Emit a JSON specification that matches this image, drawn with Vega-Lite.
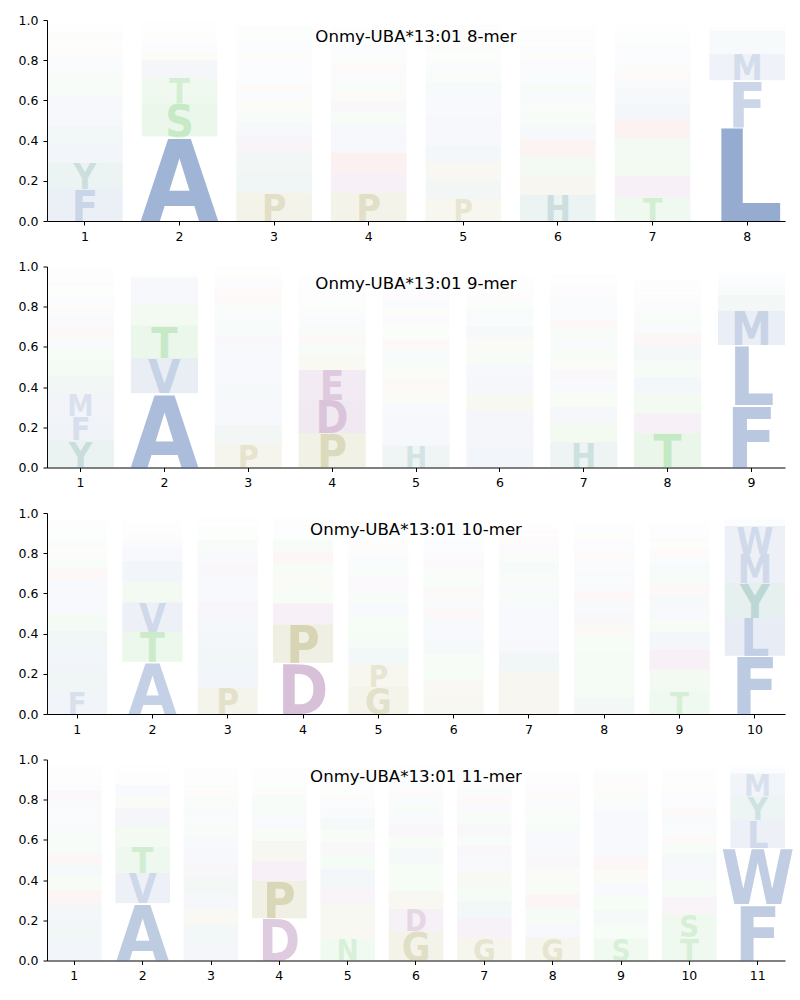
{
"$schema":"https://vega.github.io/schema/vega-lite/v6.json",
"background":"white",
"padding":{"left":16,"top":14,"right":10,"bottom":5},
"config":{"view":{"stroke":null},"font":"DejaVu Sans",
"axis":{"domainColor":"black","tickColor":"black","labelColor":"black","labelFont":"DejaVu Sans","labelFontSize":12.5,"tickSize":4,"labelPadding":5,"grid":false,"domainWidth":1,"tickWidth":1,"title":null},
"title":{"font":"DejaVu Sans","fontSize":16.6,"fontWeight":"normal","color":"black","anchor":"middle","offset":-32,"baseline":"alphabetic"}},
"spacing":45.5,
"bounds":"flush",
"datasets":{
"m8":[
{"pos":1,"aa":"F","h":0.16},{"pos":1,"aa":"Y","h":0.13},{"pos":1,"aa":"I","h":0.10},{"pos":1,"aa":"H","h":0.085},{"pos":1,"aa":"M","h":0.075},{"pos":1,"aa":"V","h":0.07},{"pos":1,"aa":"S","h":0.055},{"pos":1,"aa":"T","h":0.05},{"pos":1,"aa":"A","h":0.05},{"pos":1,"aa":"L","h":0.045},{"pos":1,"aa":"R","h":0.03},{"pos":1,"aa":"K","h":0.025},{"pos":1,"aa":"Q","h":0.02},{"pos":1,"aa":"N","h":0.02},{"pos":1,"aa":"E","h":0.02},{"pos":1,"aa":"D","h":0.015},{"pos":1,"aa":"G","h":0.015},{"pos":1,"aa":"P","h":0.01},{"pos":1,"aa":"W","h":0.01},{"pos":1,"aa":"C","h":0.005},
{"pos":2,"aa":"A","h":0.42},{"pos":2,"aa":"S","h":0.165},{"pos":2,"aa":"T","h":0.125},{"pos":2,"aa":"V","h":0.09},{"pos":2,"aa":"P","h":0.045},{"pos":2,"aa":"I","h":0.03},{"pos":2,"aa":"L","h":0.02},{"pos":2,"aa":"M","h":0.015},{"pos":2,"aa":"G","h":0.015},{"pos":2,"aa":"E","h":0.01},{"pos":2,"aa":"Q","h":0.01},{"pos":2,"aa":"N","h":0.01},{"pos":2,"aa":"F","h":0.01},{"pos":2,"aa":"Y","h":0.005},{"pos":2,"aa":"W","h":0.005},{"pos":2,"aa":"H","h":0.005},{"pos":2,"aa":"K","h":0.005},{"pos":2,"aa":"R","h":0.005},{"pos":2,"aa":"D","h":0.005},
{"pos":3,"aa":"P","h":0.14},{"pos":3,"aa":"Y","h":0.105},{"pos":3,"aa":"H","h":0.09},{"pos":3,"aa":"D","h":0.085},{"pos":3,"aa":"F","h":0.075},{"pos":3,"aa":"N","h":0.055},{"pos":3,"aa":"G","h":0.05},{"pos":3,"aa":"A","h":0.04},{"pos":3,"aa":"K","h":0.035},{"pos":3,"aa":"M","h":0.035},{"pos":3,"aa":"V","h":0.035},{"pos":3,"aa":"I","h":0.03},{"pos":3,"aa":"E","h":0.03},{"pos":3,"aa":"R","h":0.03},{"pos":3,"aa":"W","h":0.03},{"pos":3,"aa":"L","h":0.03},{"pos":3,"aa":"S","h":0.025},{"pos":3,"aa":"T","h":0.02},{"pos":3,"aa":"Q","h":0.02},{"pos":3,"aa":"C","h":0.01},
{"pos":4,"aa":"P","h":0.14},{"pos":4,"aa":"E","h":0.10},{"pos":4,"aa":"K","h":0.10},{"pos":4,"aa":"A","h":0.07},{"pos":4,"aa":"V","h":0.07},{"pos":4,"aa":"T","h":0.06},{"pos":4,"aa":"D","h":0.055},{"pos":4,"aa":"G","h":0.055},{"pos":4,"aa":"N","h":0.045},{"pos":4,"aa":"I","h":0.04},{"pos":4,"aa":"R","h":0.04},{"pos":4,"aa":"S","h":0.035},{"pos":4,"aa":"L","h":0.035},{"pos":4,"aa":"F","h":0.03},{"pos":4,"aa":"M","h":0.025},{"pos":4,"aa":"Q","h":0.02},{"pos":4,"aa":"Y","h":0.02},{"pos":4,"aa":"H","h":0.015},{"pos":4,"aa":"W","h":0.01},{"pos":4,"aa":"C","h":0.005},
{"pos":5,"aa":"P","h":0.11},{"pos":5,"aa":"H","h":0.09},{"pos":5,"aa":"G","h":0.09},{"pos":5,"aa":"I","h":0.085},{"pos":5,"aa":"V","h":0.075},{"pos":5,"aa":"F","h":0.07},{"pos":5,"aa":"A","h":0.06},{"pos":5,"aa":"M","h":0.06},{"pos":5,"aa":"Y","h":0.05},{"pos":5,"aa":"T","h":0.045},{"pos":5,"aa":"L","h":0.04},{"pos":5,"aa":"S","h":0.035},{"pos":5,"aa":"N","h":0.03},{"pos":5,"aa":"E","h":0.025},{"pos":5,"aa":"K","h":0.025},{"pos":5,"aa":"Q","h":0.025},{"pos":5,"aa":"D","h":0.02},{"pos":5,"aa":"R","h":0.02},{"pos":5,"aa":"W","h":0.01},{"pos":5,"aa":"C","h":0.01},
{"pos":6,"aa":"H","h":0.13},{"pos":6,"aa":"P","h":0.10},{"pos":6,"aa":"T","h":0.09},{"pos":6,"aa":"R","h":0.085},{"pos":6,"aa":"A","h":0.07},{"pos":6,"aa":"S","h":0.055},{"pos":6,"aa":"Q","h":0.05},{"pos":6,"aa":"I","h":0.05},{"pos":6,"aa":"N","h":0.05},{"pos":6,"aa":"V","h":0.045},{"pos":6,"aa":"M","h":0.04},{"pos":6,"aa":"E","h":0.04},{"pos":6,"aa":"K","h":0.03},{"pos":6,"aa":"L","h":0.03},{"pos":6,"aa":"G","h":0.025},{"pos":6,"aa":"D","h":0.02},{"pos":6,"aa":"Y","h":0.02},{"pos":6,"aa":"F","h":0.02},{"pos":6,"aa":"W","h":0.01},{"pos":6,"aa":"C","h":0.01},
{"pos":7,"aa":"T","h":0.12},{"pos":7,"aa":"E","h":0.105},{"pos":7,"aa":"S","h":0.10},{"pos":7,"aa":"Q","h":0.09},{"pos":7,"aa":"K","h":0.09},{"pos":7,"aa":"A","h":0.085},{"pos":7,"aa":"H","h":0.065},{"pos":7,"aa":"V","h":0.05},{"pos":7,"aa":"R","h":0.04},{"pos":7,"aa":"N","h":0.04},{"pos":7,"aa":"I","h":0.035},{"pos":7,"aa":"L","h":0.03},{"pos":7,"aa":"D","h":0.025},{"pos":7,"aa":"G","h":0.02},{"pos":7,"aa":"M","h":0.02},{"pos":7,"aa":"Y","h":0.02},{"pos":7,"aa":"P","h":0.015},{"pos":7,"aa":"F","h":0.01},{"pos":7,"aa":"W","h":0.005},{"pos":7,"aa":"C","h":0.005},
{"pos":8,"aa":"L","h":0.47},{"pos":8,"aa":"F","h":0.23},{"pos":8,"aa":"M","h":0.13},{"pos":8,"aa":"I","h":0.065},{"pos":8,"aa":"Y","h":0.05},{"pos":8,"aa":"V","h":0.015},{"pos":8,"aa":"W","h":0.01},{"pos":8,"aa":"A","h":0.01},{"pos":8,"aa":"C","h":0.005},{"pos":8,"aa":"T","h":0.005}
],
"m9":[
{"pos":1,"aa":"Y","h":0.135},{"pos":1,"aa":"F","h":0.12},{"pos":1,"aa":"M","h":0.11},{"pos":1,"aa":"H","h":0.09},{"pos":1,"aa":"S","h":0.085},{"pos":1,"aa":"T","h":0.055},{"pos":1,"aa":"I","h":0.05},{"pos":1,"aa":"K","h":0.05},{"pos":1,"aa":"V","h":0.05},{"pos":1,"aa":"L","h":0.045},{"pos":1,"aa":"R","h":0.03},{"pos":1,"aa":"A","h":0.03},{"pos":1,"aa":"N","h":0.025},{"pos":1,"aa":"Q","h":0.025},{"pos":1,"aa":"E","h":0.02},{"pos":1,"aa":"G","h":0.02},{"pos":1,"aa":"D","h":0.015},{"pos":1,"aa":"W","h":0.015},{"pos":1,"aa":"P","h":0.01},{"pos":1,"aa":"C","h":0.01},
{"pos":2,"aa":"A","h":0.37},{"pos":2,"aa":"V","h":0.175},{"pos":2,"aa":"T","h":0.16},{"pos":2,"aa":"S","h":0.105},{"pos":2,"aa":"I","h":0.068},{"pos":2,"aa":"M","h":0.066},{"pos":2,"aa":"L","h":0.015},{"pos":2,"aa":"G","h":0.01},{"pos":2,"aa":"Q","h":0.01},{"pos":2,"aa":"E","h":0.005},{"pos":2,"aa":"N","h":0.005},{"pos":2,"aa":"F","h":0.005},
{"pos":3,"aa":"P","h":0.12},{"pos":3,"aa":"Y","h":0.09},{"pos":3,"aa":"F","h":0.075},{"pos":3,"aa":"M","h":0.075},{"pos":3,"aa":"H","h":0.065},{"pos":3,"aa":"V","h":0.065},{"pos":3,"aa":"W","h":0.06},{"pos":3,"aa":"A","h":0.055},{"pos":3,"aa":"D","h":0.055},{"pos":3,"aa":"S","h":0.055},{"pos":3,"aa":"I","h":0.05},{"pos":3,"aa":"N","h":0.045},{"pos":3,"aa":"K","h":0.04},{"pos":3,"aa":"R","h":0.04},{"pos":3,"aa":"L","h":0.03},{"pos":3,"aa":"E","h":0.02},{"pos":3,"aa":"G","h":0.02},{"pos":3,"aa":"T","h":0.015},{"pos":3,"aa":"Q","h":0.01},{"pos":3,"aa":"C","h":0.01},
{"pos":4,"aa":"P","h":0.17},{"pos":4,"aa":"D","h":0.165},{"pos":4,"aa":"E","h":0.15},{"pos":4,"aa":"G","h":0.075},{"pos":4,"aa":"S","h":0.05},{"pos":4,"aa":"K","h":0.05},{"pos":4,"aa":"N","h":0.05},{"pos":4,"aa":"A","h":0.045},{"pos":4,"aa":"Q","h":0.04},{"pos":4,"aa":"T","h":0.03},{"pos":4,"aa":"V","h":0.025},{"pos":4,"aa":"R","h":0.02},{"pos":4,"aa":"H","h":0.02},{"pos":4,"aa":"L","h":0.02},{"pos":4,"aa":"I","h":0.015},{"pos":4,"aa":"M","h":0.01},{"pos":4,"aa":"Y","h":0.01},{"pos":4,"aa":"F","h":0.01},{"pos":4,"aa":"W","h":0.005},{"pos":4,"aa":"C","h":0.005},
{"pos":5,"aa":"H","h":0.11},{"pos":5,"aa":"F","h":0.075},{"pos":5,"aa":"V","h":0.07},{"pos":5,"aa":"I","h":0.065},{"pos":5,"aa":"G","h":0.065},{"pos":5,"aa":"K","h":0.05},{"pos":5,"aa":"P","h":0.05},{"pos":5,"aa":"N","h":0.05},{"pos":5,"aa":"A","h":0.05},{"pos":5,"aa":"R","h":0.05},{"pos":5,"aa":"T","h":0.04},{"pos":5,"aa":"Q","h":0.04},{"pos":5,"aa":"E","h":0.04},{"pos":5,"aa":"S","h":0.04},{"pos":5,"aa":"L","h":0.04},{"pos":5,"aa":"D","h":0.03},{"pos":5,"aa":"M","h":0.03},{"pos":5,"aa":"Y","h":0.025},{"pos":5,"aa":"W","h":0.02},{"pos":5,"aa":"C","h":0.01},
{"pos":6,"aa":"V","h":0.10},{"pos":6,"aa":"I","h":0.09},{"pos":6,"aa":"M","h":0.09},{"pos":6,"aa":"P","h":0.085},{"pos":6,"aa":"F","h":0.08},{"pos":6,"aa":"L","h":0.07},{"pos":6,"aa":"T","h":0.065},{"pos":6,"aa":"G","h":0.06},{"pos":6,"aa":"Y","h":0.06},{"pos":6,"aa":"A","h":0.045},{"pos":6,"aa":"H","h":0.045},{"pos":6,"aa":"S","h":0.04},{"pos":6,"aa":"E","h":0.025},{"pos":6,"aa":"K","h":0.02},{"pos":6,"aa":"N","h":0.02},{"pos":6,"aa":"Q","h":0.02},{"pos":6,"aa":"D","h":0.015},{"pos":6,"aa":"R","h":0.01},{"pos":6,"aa":"W","h":0.01},{"pos":6,"aa":"C","h":0.005},
{"pos":7,"aa":"H","h":0.125},{"pos":7,"aa":"T","h":0.10},{"pos":7,"aa":"W","h":0.08},{"pos":7,"aa":"Q","h":0.065},{"pos":7,"aa":"L","h":0.06},{"pos":7,"aa":"E","h":0.055},{"pos":7,"aa":"P","h":0.05},{"pos":7,"aa":"S","h":0.05},{"pos":7,"aa":"I","h":0.05},{"pos":7,"aa":"N","h":0.05},{"pos":7,"aa":"R","h":0.05},{"pos":7,"aa":"A","h":0.045},{"pos":7,"aa":"V","h":0.045},{"pos":7,"aa":"M","h":0.03},{"pos":7,"aa":"K","h":0.025},{"pos":7,"aa":"D","h":0.02},{"pos":7,"aa":"F","h":0.02},{"pos":7,"aa":"G","h":0.015},{"pos":7,"aa":"Y","h":0.01},{"pos":7,"aa":"C","h":0.01},
{"pos":8,"aa":"T","h":0.17},{"pos":8,"aa":"E","h":0.10},{"pos":8,"aa":"Q","h":0.095},{"pos":8,"aa":"A","h":0.085},{"pos":8,"aa":"S","h":0.08},{"pos":8,"aa":"H","h":0.075},{"pos":8,"aa":"K","h":0.06},{"pos":8,"aa":"V","h":0.05},{"pos":8,"aa":"N","h":0.05},{"pos":8,"aa":"I","h":0.04},{"pos":8,"aa":"R","h":0.03},{"pos":8,"aa":"L","h":0.02},{"pos":8,"aa":"Y","h":0.02},{"pos":8,"aa":"D","h":0.015},{"pos":8,"aa":"G","h":0.015},{"pos":8,"aa":"M","h":0.015},{"pos":8,"aa":"P","h":0.01},{"pos":8,"aa":"F","h":0.01},{"pos":8,"aa":"W","h":0.005},{"pos":8,"aa":"C","h":0.005},
{"pos":9,"aa":"F","h":0.31},{"pos":9,"aa":"L","h":0.30},{"pos":9,"aa":"M","h":0.17},{"pos":9,"aa":"Y","h":0.08},{"pos":9,"aa":"I","h":0.05},{"pos":9,"aa":"V","h":0.035},{"pos":9,"aa":"W","h":0.015},{"pos":9,"aa":"A","h":0.01},{"pos":9,"aa":"T","h":0.005},{"pos":9,"aa":"C","h":0.005}
],
"m10":[
{"pos":1,"aa":"F","h":0.115},{"pos":1,"aa":"H","h":0.105},{"pos":1,"aa":"M","h":0.10},{"pos":1,"aa":"Y","h":0.095},{"pos":1,"aa":"S","h":0.085},{"pos":1,"aa":"I","h":0.06},{"pos":1,"aa":"V","h":0.055},{"pos":1,"aa":"A","h":0.055},{"pos":1,"aa":"R","h":0.055},{"pos":1,"aa":"T","h":0.045},{"pos":1,"aa":"K","h":0.03},{"pos":1,"aa":"N","h":0.03},{"pos":1,"aa":"E","h":0.025},{"pos":1,"aa":"W","h":0.025},{"pos":1,"aa":"L","h":0.025},{"pos":1,"aa":"Q","h":0.02},{"pos":1,"aa":"D","h":0.015},{"pos":1,"aa":"G","h":0.01},{"pos":1,"aa":"P","h":0.01},{"pos":1,"aa":"C","h":0.01},
{"pos":2,"aa":"A","h":0.26},{"pos":2,"aa":"T","h":0.15},{"pos":2,"aa":"V","h":0.145},{"pos":2,"aa":"S","h":0.105},{"pos":2,"aa":"M","h":0.10},{"pos":2,"aa":"I","h":0.065},{"pos":2,"aa":"L","h":0.045},{"pos":2,"aa":"G","h":0.02},{"pos":2,"aa":"P","h":0.02},{"pos":2,"aa":"Q","h":0.015},{"pos":2,"aa":"E","h":0.015},{"pos":2,"aa":"N","h":0.01},{"pos":2,"aa":"F","h":0.01},{"pos":2,"aa":"Y","h":0.005},{"pos":2,"aa":"W","h":0.005},{"pos":2,"aa":"K","h":0.005},
{"pos":3,"aa":"P","h":0.13},{"pos":3,"aa":"F","h":0.10},{"pos":3,"aa":"Y","h":0.095},{"pos":3,"aa":"W","h":0.085},{"pos":3,"aa":"I","h":0.08},{"pos":3,"aa":"C","h":0.07},{"pos":3,"aa":"A","h":0.065},{"pos":3,"aa":"M","h":0.065},{"pos":3,"aa":"D","h":0.06},{"pos":3,"aa":"V","h":0.06},{"pos":3,"aa":"N","h":0.055},{"pos":3,"aa":"S","h":0.025},{"pos":3,"aa":"L","h":0.02},{"pos":3,"aa":"T","h":0.02},{"pos":3,"aa":"G","h":0.015},{"pos":3,"aa":"K","h":0.01},{"pos":3,"aa":"E","h":0.01},{"pos":3,"aa":"H","h":0.01},{"pos":3,"aa":"R","h":0.005},{"pos":3,"aa":"Q","h":0.005},
{"pos":4,"aa":"D","h":0.255},{"pos":4,"aa":"P","h":0.19},{"pos":4,"aa":"E","h":0.105},{"pos":4,"aa":"N","h":0.07},{"pos":4,"aa":"G","h":0.065},{"pos":4,"aa":"Q","h":0.065},{"pos":4,"aa":"K","h":0.06},{"pos":4,"aa":"S","h":0.058},{"pos":4,"aa":"T","h":0.03},{"pos":4,"aa":"A","h":0.02},{"pos":4,"aa":"R","h":0.02},{"pos":4,"aa":"H","h":0.02},{"pos":4,"aa":"V","h":0.01},{"pos":4,"aa":"L","h":0.01},{"pos":4,"aa":"Y","h":0.005},{"pos":4,"aa":"M","h":0.005},{"pos":4,"aa":"I","h":0.005},{"pos":4,"aa":"F","h":0.005},
{"pos":5,"aa":"G","h":0.135},{"pos":5,"aa":"P","h":0.11},{"pos":5,"aa":"H","h":0.085},{"pos":5,"aa":"N","h":0.08},{"pos":5,"aa":"T","h":0.07},{"pos":5,"aa":"A","h":0.065},{"pos":5,"aa":"S","h":0.055},{"pos":5,"aa":"D","h":0.045},{"pos":5,"aa":"E","h":0.045},{"pos":5,"aa":"Q","h":0.045},{"pos":5,"aa":"V","h":0.045},{"pos":5,"aa":"I","h":0.03},{"pos":5,"aa":"K","h":0.03},{"pos":5,"aa":"R","h":0.025},{"pos":5,"aa":"L","h":0.025},{"pos":5,"aa":"M","h":0.02},{"pos":5,"aa":"F","h":0.015},{"pos":5,"aa":"Y","h":0.015},{"pos":5,"aa":"W","h":0.01},{"pos":5,"aa":"C","h":0.005},
{"pos":6,"aa":"P","h":0.085},{"pos":6,"aa":"G","h":0.08},{"pos":6,"aa":"T","h":0.07},{"pos":6,"aa":"N","h":0.065},{"pos":6,"aa":"Y","h":0.065},{"pos":6,"aa":"I","h":0.055},{"pos":6,"aa":"H","h":0.055},{"pos":6,"aa":"K","h":0.05},{"pos":6,"aa":"A","h":0.05},{"pos":6,"aa":"R","h":0.05},{"pos":6,"aa":"Q","h":0.05},{"pos":6,"aa":"S","h":0.045},{"pos":6,"aa":"D","h":0.045},{"pos":6,"aa":"E","h":0.04},{"pos":6,"aa":"V","h":0.03},{"pos":6,"aa":"L","h":0.03},{"pos":6,"aa":"F","h":0.025},{"pos":6,"aa":"M","h":0.025},{"pos":6,"aa":"W","h":0.02},{"pos":6,"aa":"C","h":0.015},
{"pos":7,"aa":"G","h":0.105},{"pos":7,"aa":"P","h":0.105},{"pos":7,"aa":"H","h":0.095},{"pos":7,"aa":"V","h":0.07},{"pos":7,"aa":"I","h":0.065},{"pos":7,"aa":"M","h":0.06},{"pos":7,"aa":"A","h":0.055},{"pos":7,"aa":"T","h":0.055},{"pos":7,"aa":"L","h":0.05},{"pos":7,"aa":"N","h":0.05},{"pos":7,"aa":"Y","h":0.05},{"pos":7,"aa":"S","h":0.045},{"pos":7,"aa":"E","h":0.04},{"pos":7,"aa":"K","h":0.03},{"pos":7,"aa":"R","h":0.02},{"pos":7,"aa":"D","h":0.02},{"pos":7,"aa":"Q","h":0.01},{"pos":7,"aa":"F","h":0.01},{"pos":7,"aa":"W","h":0.01},{"pos":7,"aa":"C","h":0.005},
{"pos":8,"aa":"H","h":0.08},{"pos":8,"aa":"N","h":0.08},{"pos":8,"aa":"T","h":0.075},{"pos":8,"aa":"S","h":0.075},{"pos":8,"aa":"Q","h":0.07},{"pos":8,"aa":"P","h":0.07},{"pos":8,"aa":"E","h":0.055},{"pos":8,"aa":"L","h":0.055},{"pos":8,"aa":"R","h":0.055},{"pos":8,"aa":"V","h":0.05},{"pos":8,"aa":"A","h":0.05},{"pos":8,"aa":"I","h":0.045},{"pos":8,"aa":"K","h":0.04},{"pos":8,"aa":"M","h":0.035},{"pos":8,"aa":"D","h":0.03},{"pos":8,"aa":"G","h":0.03},{"pos":8,"aa":"Y","h":0.025},{"pos":8,"aa":"F","h":0.02},{"pos":8,"aa":"W","h":0.01},{"pos":8,"aa":"C","h":0.005},
{"pos":9,"aa":"T","h":0.115},{"pos":9,"aa":"S","h":0.105},{"pos":9,"aa":"E","h":0.10},{"pos":9,"aa":"A","h":0.09},{"pos":9,"aa":"Q","h":0.06},{"pos":9,"aa":"V","h":0.06},{"pos":9,"aa":"Y","h":0.06},{"pos":9,"aa":"K","h":0.055},{"pos":9,"aa":"N","h":0.055},{"pos":9,"aa":"H","h":0.045},{"pos":9,"aa":"I","h":0.04},{"pos":9,"aa":"R","h":0.035},{"pos":9,"aa":"P","h":0.03},{"pos":9,"aa":"D","h":0.025},{"pos":9,"aa":"G","h":0.02},{"pos":9,"aa":"L","h":0.02},{"pos":9,"aa":"M","h":0.02},{"pos":9,"aa":"F","h":0.01},{"pos":9,"aa":"W","h":0.01},{"pos":9,"aa":"C","h":0.005},
{"pos":10,"aa":"F","h":0.29},{"pos":10,"aa":"L","h":0.19},{"pos":10,"aa":"Y","h":0.17},{"pos":10,"aa":"M","h":0.145},{"pos":10,"aa":"W","h":0.14},{"pos":10,"aa":"I","h":0.03},{"pos":10,"aa":"V","h":0.01},{"pos":10,"aa":"A","h":0.005}
],
"m11":[
{"pos":1,"aa":"F","h":0.10},{"pos":1,"aa":"H","h":0.095},{"pos":1,"aa":"M","h":0.085},{"pos":1,"aa":"R","h":0.07},{"pos":1,"aa":"S","h":0.065},{"pos":1,"aa":"Y","h":0.06},{"pos":1,"aa":"K","h":0.06},{"pos":1,"aa":"N","h":0.055},{"pos":1,"aa":"T","h":0.055},{"pos":1,"aa":"A","h":0.05},{"pos":1,"aa":"I","h":0.05},{"pos":1,"aa":"V","h":0.05},{"pos":1,"aa":"C","h":0.05},{"pos":1,"aa":"E","h":0.025},{"pos":1,"aa":"L","h":0.025},{"pos":1,"aa":"Q","h":0.02},{"pos":1,"aa":"G","h":0.02},{"pos":1,"aa":"D","h":0.015},{"pos":1,"aa":"P","h":0.01},{"pos":1,"aa":"W","h":0.01},
{"pos":2,"aa":"A","h":0.285},{"pos":2,"aa":"V","h":0.15},{"pos":2,"aa":"T","h":0.13},{"pos":2,"aa":"S","h":0.10},{"pos":2,"aa":"M","h":0.09},{"pos":2,"aa":"P","h":0.065},{"pos":2,"aa":"I","h":0.055},{"pos":2,"aa":"L","h":0.025},{"pos":2,"aa":"G","h":0.02},{"pos":2,"aa":"E","h":0.015},{"pos":2,"aa":"Q","h":0.015},{"pos":2,"aa":"N","h":0.01},{"pos":2,"aa":"F","h":0.01},{"pos":2,"aa":"Y","h":0.005},{"pos":2,"aa":"H","h":0.005},{"pos":2,"aa":"K","h":0.005},
{"pos":3,"aa":"F","h":0.09},{"pos":3,"aa":"Y","h":0.085},{"pos":3,"aa":"P","h":0.08},{"pos":3,"aa":"M","h":0.08},{"pos":3,"aa":"H","h":0.08},{"pos":3,"aa":"D","h":0.07},{"pos":3,"aa":"I","h":0.07},{"pos":3,"aa":"W","h":0.06},{"pos":3,"aa":"N","h":0.05},{"pos":3,"aa":"V","h":0.05},{"pos":3,"aa":"A","h":0.05},{"pos":3,"aa":"S","h":0.045},{"pos":3,"aa":"R","h":0.03},{"pos":3,"aa":"K","h":0.025},{"pos":3,"aa":"E","h":0.02},{"pos":3,"aa":"G","h":0.02},{"pos":3,"aa":"L","h":0.02},{"pos":3,"aa":"T","h":0.01},{"pos":3,"aa":"Q","h":0.01},{"pos":3,"aa":"C","h":0.01},
{"pos":4,"aa":"D","h":0.21},{"pos":4,"aa":"P","h":0.185},{"pos":4,"aa":"E","h":0.10},{"pos":4,"aa":"G","h":0.10},{"pos":4,"aa":"N","h":0.06},{"pos":4,"aa":"A","h":0.06},{"pos":4,"aa":"S","h":0.055},{"pos":4,"aa":"Q","h":0.055},{"pos":4,"aa":"K","h":0.03},{"pos":4,"aa":"T","h":0.03},{"pos":4,"aa":"R","h":0.02},{"pos":4,"aa":"H","h":0.02},{"pos":4,"aa":"V","h":0.015},{"pos":4,"aa":"L","h":0.01},{"pos":4,"aa":"I","h":0.01},{"pos":4,"aa":"M","h":0.005},{"pos":4,"aa":"Y","h":0.005},{"pos":4,"aa":"F","h":0.005},
{"pos":5,"aa":"N","h":0.11},{"pos":5,"aa":"G","h":0.09},{"pos":5,"aa":"P","h":0.085},{"pos":5,"aa":"D","h":0.085},{"pos":5,"aa":"A","h":0.085},{"pos":5,"aa":"S","h":0.075},{"pos":5,"aa":"E","h":0.06},{"pos":5,"aa":"Q","h":0.06},{"pos":5,"aa":"H","h":0.06},{"pos":5,"aa":"V","h":0.05},{"pos":5,"aa":"I","h":0.035},{"pos":5,"aa":"K","h":0.03},{"pos":5,"aa":"T","h":0.03},{"pos":5,"aa":"R","h":0.02},{"pos":5,"aa":"L","h":0.02},{"pos":5,"aa":"M","h":0.015},{"pos":5,"aa":"Y","h":0.015},{"pos":5,"aa":"F","h":0.01},{"pos":5,"aa":"W","h":0.005},{"pos":5,"aa":"C","h":0.005},
{"pos":6,"aa":"G","h":0.145},{"pos":6,"aa":"D","h":0.11},{"pos":6,"aa":"P","h":0.09},{"pos":6,"aa":"S","h":0.07},{"pos":6,"aa":"N","h":0.07},{"pos":6,"aa":"H","h":0.07},{"pos":6,"aa":"T","h":0.065},{"pos":6,"aa":"E","h":0.065},{"pos":6,"aa":"A","h":0.05},{"pos":6,"aa":"Q","h":0.05},{"pos":6,"aa":"I","h":0.045},{"pos":6,"aa":"K","h":0.03},{"pos":6,"aa":"V","h":0.03},{"pos":6,"aa":"R","h":0.02},{"pos":6,"aa":"L","h":0.02},{"pos":6,"aa":"M","h":0.02},{"pos":6,"aa":"Y","h":0.01},{"pos":6,"aa":"F","h":0.01},{"pos":6,"aa":"W","h":0.005},{"pos":6,"aa":"C","h":0.005},
{"pos":7,"aa":"G","h":0.115},{"pos":7,"aa":"D","h":0.095},{"pos":7,"aa":"H","h":0.085},{"pos":7,"aa":"N","h":0.08},{"pos":7,"aa":"P","h":0.073},{"pos":7,"aa":"A","h":0.065},{"pos":7,"aa":"E","h":0.055},{"pos":7,"aa":"Q","h":0.055},{"pos":7,"aa":"C","h":0.055},{"pos":7,"aa":"S","h":0.05},{"pos":7,"aa":"V","h":0.05},{"pos":7,"aa":"K","h":0.045},{"pos":7,"aa":"I","h":0.04},{"pos":7,"aa":"R","h":0.02},{"pos":7,"aa":"L","h":0.02},{"pos":7,"aa":"T","h":0.02},{"pos":7,"aa":"M","h":0.02},{"pos":7,"aa":"Y","h":0.01},{"pos":7,"aa":"F","h":0.01},{"pos":7,"aa":"W","h":0.005},
{"pos":8,"aa":"G","h":0.115},{"pos":8,"aa":"V","h":0.072},{"pos":8,"aa":"N","h":0.072},{"pos":8,"aa":"K","h":0.07},{"pos":8,"aa":"T","h":0.065},{"pos":8,"aa":"P","h":0.065},{"pos":8,"aa":"E","h":0.065},{"pos":8,"aa":"A","h":0.055},{"pos":8,"aa":"I","h":0.055},{"pos":8,"aa":"Q","h":0.05},{"pos":8,"aa":"S","h":0.045},{"pos":8,"aa":"H","h":0.04},{"pos":8,"aa":"L","h":0.04},{"pos":8,"aa":"R","h":0.03},{"pos":8,"aa":"D","h":0.03},{"pos":8,"aa":"M","h":0.025},{"pos":8,"aa":"Y","h":0.02},{"pos":8,"aa":"F","h":0.015},{"pos":8,"aa":"W","h":0.01},{"pos":8,"aa":"C","h":0.005},
{"pos":9,"aa":"S","h":0.11},{"pos":9,"aa":"N","h":0.07},{"pos":9,"aa":"H","h":0.07},{"pos":9,"aa":"T","h":0.07},{"pos":9,"aa":"A","h":0.065},{"pos":9,"aa":"G","h":0.065},{"pos":9,"aa":"R","h":0.065},{"pos":9,"aa":"V","h":0.06},{"pos":9,"aa":"I","h":0.055},{"pos":9,"aa":"L","h":0.055},{"pos":9,"aa":"F","h":0.055},{"pos":9,"aa":"M","h":0.05},{"pos":9,"aa":"Q","h":0.045},{"pos":9,"aa":"K","h":0.03},{"pos":9,"aa":"E","h":0.03},{"pos":9,"aa":"D","h":0.025},{"pos":9,"aa":"Y","h":0.02},{"pos":9,"aa":"P","h":0.01},{"pos":9,"aa":"W","h":0.01},{"pos":9,"aa":"C","h":0.005},
{"pos":10,"aa":"T","h":0.115},{"pos":10,"aa":"S","h":0.115},{"pos":10,"aa":"E","h":0.085},{"pos":10,"aa":"N","h":0.08},{"pos":10,"aa":"A","h":0.075},{"pos":10,"aa":"Y","h":0.06},{"pos":10,"aa":"Q","h":0.05},{"pos":10,"aa":"K","h":0.045},{"pos":10,"aa":"V","h":0.045},{"pos":10,"aa":"H","h":0.045},{"pos":10,"aa":"R","h":0.045},{"pos":10,"aa":"L","h":0.03},{"pos":10,"aa":"I","h":0.03},{"pos":10,"aa":"D","h":0.03},{"pos":10,"aa":"G","h":0.03},{"pos":10,"aa":"M","h":0.025},{"pos":10,"aa":"P","h":0.02},{"pos":10,"aa":"F","h":0.015},{"pos":10,"aa":"W","h":0.01},{"pos":10,"aa":"C","h":0.005},
{"pos":11,"aa":"F","h":0.282},{"pos":11,"aa":"W","h":0.278},{"pos":11,"aa":"L","h":0.14},{"pos":11,"aa":"Y","h":0.117},{"pos":11,"aa":"M","h":0.113},{"pos":11,"aa":"I","h":0.03},{"pos":11,"aa":"V","h":0.01},{"pos":11,"aa":"A","h":0.005}
]
},
"vconcat":[
{"width":738,"height":201,"data":{"name":"m8"},"title":{"text":"Onmy-UBA*13:01 8-mer"},
"transform":[{"stack":"h","groupby":["pos"],"sort":[{"field":"h","order":"descending"}],"as":["y0","y1"]}],
"encoding":{"x":{"field":"pos","type":"ordinal","scale":{"paddingInner":0.2,"paddingOuter":0},"axis":{"labelAngle":0}},
"y":{"field":"y0","type":"quantitative","scale":{"domain":[0,1]},"axis":{"values":[0,0.2,0.4,0.6,0.8,1],"format":".1f","minExtent":31,"maxExtent":31}},
"color":{"field":"aa","type":"nominal","legend":null,"scale":{"domain":["A","C","D","E","F","G","H","I","K","L","M","N","P","Q","R","S","T","V","W","Y"],"range":["#4C72B0","#873D87","#873D87","#873D87","#4C72B0","#8E8628","#297E75","#4C72B0","#C83232","#4C72B0","#4C72B0","#42B642","#8E8628","#42B642","#C83232","#42B642","#42B642","#4C72B0","#4C72B0","#297E75"]}}},
"resolve":{"scale":{"opacity":"independent","size":"independent"}},
"layer":[
{"transform":[{"filter":"datum.h < 0.2"}],"mark":{"type":"bar"},"encoding":{"y2":{"field":"y1"},"opacity":{"field":"h","type":"quantitative","legend":null,"scale":{"domain":[0,0.8],"range":[0,0.55]}}}},
{"transform":[{"filter":"datum.h >= 0.11"}],"mark":{"type":"text","baseline":"alphabetic","align":"center","font":"DejaVu Sans Condensed, DejaVu Sans","fontWeight":"bold"},"encoding":{"text":{"field":"aa"},"size":{"field":"h","type":"quantitative","legend":null,"scale":{"domain":[0,1],"range":[0,268]}},"opacity":{"field":"h","type":"quantitative","legend":null,"scale":{"domain":[0,0.8],"range":[0,1]}}}}
]},
{"width":738,"height":201,"data":{"name":"m9"},"title":{"text":"Onmy-UBA*13:01 9-mer"},
"transform":[{"stack":"h","groupby":["pos"],"sort":[{"field":"h","order":"descending"}],"as":["y0","y1"]}],
"encoding":{"x":{"field":"pos","type":"ordinal","scale":{"paddingInner":0.2,"paddingOuter":0},"axis":{"labelAngle":0}},
"y":{"field":"y0","type":"quantitative","scale":{"domain":[0,1]},"axis":{"values":[0,0.2,0.4,0.6,0.8,1],"format":".1f","minExtent":31,"maxExtent":31}},
"color":{"field":"aa","type":"nominal","legend":null,"scale":{"domain":["A","C","D","E","F","G","H","I","K","L","M","N","P","Q","R","S","T","V","W","Y"],"range":["#4C72B0","#873D87","#873D87","#873D87","#4C72B0","#8E8628","#297E75","#4C72B0","#C83232","#4C72B0","#4C72B0","#42B642","#8E8628","#42B642","#C83232","#42B642","#42B642","#4C72B0","#4C72B0","#297E75"]}}},
"resolve":{"scale":{"opacity":"independent","size":"independent"}},
"layer":[
{"transform":[{"filter":"datum.h < 0.2"}],"mark":{"type":"bar"},"encoding":{"y2":{"field":"y1"},"opacity":{"field":"h","type":"quantitative","legend":null,"scale":{"domain":[0,0.8],"range":[0,0.55]}}}},
{"transform":[{"filter":"datum.h >= 0.11"}],"mark":{"type":"text","baseline":"alphabetic","align":"center","font":"DejaVu Sans Condensed, DejaVu Sans","fontWeight":"bold"},"encoding":{"text":{"field":"aa"},"size":{"field":"h","type":"quantitative","legend":null,"scale":{"domain":[0,1],"range":[0,268]}},"opacity":{"field":"h","type":"quantitative","legend":null,"scale":{"domain":[0,0.8],"range":[0,1]}}}}
]},
{"width":738,"height":201,"data":{"name":"m10"},"title":{"text":"Onmy-UBA*13:01 10-mer"},
"transform":[{"stack":"h","groupby":["pos"],"sort":[{"field":"h","order":"descending"}],"as":["y0","y1"]}],
"encoding":{"x":{"field":"pos","type":"ordinal","scale":{"paddingInner":0.2,"paddingOuter":0},"axis":{"labelAngle":0}},
"y":{"field":"y0","type":"quantitative","scale":{"domain":[0,1]},"axis":{"values":[0,0.2,0.4,0.6,0.8,1],"format":".1f","minExtent":31,"maxExtent":31}},
"color":{"field":"aa","type":"nominal","legend":null,"scale":{"domain":["A","C","D","E","F","G","H","I","K","L","M","N","P","Q","R","S","T","V","W","Y"],"range":["#4C72B0","#873D87","#873D87","#873D87","#4C72B0","#8E8628","#297E75","#4C72B0","#C83232","#4C72B0","#4C72B0","#42B642","#8E8628","#42B642","#C83232","#42B642","#42B642","#4C72B0","#4C72B0","#297E75"]}}},
"resolve":{"scale":{"opacity":"independent","size":"independent"}},
"layer":[
{"transform":[{"filter":"datum.h < 0.2"}],"mark":{"type":"bar"},"encoding":{"y2":{"field":"y1"},"opacity":{"field":"h","type":"quantitative","legend":null,"scale":{"domain":[0,0.8],"range":[0,0.55]}}}},
{"transform":[{"filter":"datum.h >= 0.11"}],"mark":{"type":"text","baseline":"alphabetic","align":"center","font":"DejaVu Sans Condensed, DejaVu Sans","fontWeight":"bold"},"encoding":{"text":{"field":"aa"},"size":{"field":"h","type":"quantitative","legend":null,"scale":{"domain":[0,1],"range":[0,268]}},"opacity":{"field":"h","type":"quantitative","legend":null,"scale":{"domain":[0,0.8],"range":[0,1]}}}}
]},
{"width":738,"height":201,"data":{"name":"m11"},"title":{"text":"Onmy-UBA*13:01 11-mer"},
"transform":[{"stack":"h","groupby":["pos"],"sort":[{"field":"h","order":"descending"}],"as":["y0","y1"]}],
"encoding":{"x":{"field":"pos","type":"ordinal","scale":{"paddingInner":0.2,"paddingOuter":0},"axis":{"labelAngle":0}},
"y":{"field":"y0","type":"quantitative","scale":{"domain":[0,1]},"axis":{"values":[0,0.2,0.4,0.6,0.8,1],"format":".1f","minExtent":31,"maxExtent":31}},
"color":{"field":"aa","type":"nominal","legend":null,"scale":{"domain":["A","C","D","E","F","G","H","I","K","L","M","N","P","Q","R","S","T","V","W","Y"],"range":["#4C72B0","#873D87","#873D87","#873D87","#4C72B0","#8E8628","#297E75","#4C72B0","#C83232","#4C72B0","#4C72B0","#42B642","#8E8628","#42B642","#C83232","#42B642","#42B642","#4C72B0","#4C72B0","#297E75"]}}},
"resolve":{"scale":{"opacity":"independent","size":"independent"}},
"layer":[
{"transform":[{"filter":"datum.h < 0.2"}],"mark":{"type":"bar"},"encoding":{"y2":{"field":"y1"},"opacity":{"field":"h","type":"quantitative","legend":null,"scale":{"domain":[0,0.8],"range":[0,0.55]}}}},
{"transform":[{"filter":"datum.h >= 0.11"}],"mark":{"type":"text","baseline":"alphabetic","align":"center","font":"DejaVu Sans Condensed, DejaVu Sans","fontWeight":"bold"},"encoding":{"text":{"field":"aa"},"size":{"field":"h","type":"quantitative","legend":null,"scale":{"domain":[0,1],"range":[0,268]}},"opacity":{"field":"h","type":"quantitative","legend":null,"scale":{"domain":[0,0.8],"range":[0,1]}}}}
]}
]
}
